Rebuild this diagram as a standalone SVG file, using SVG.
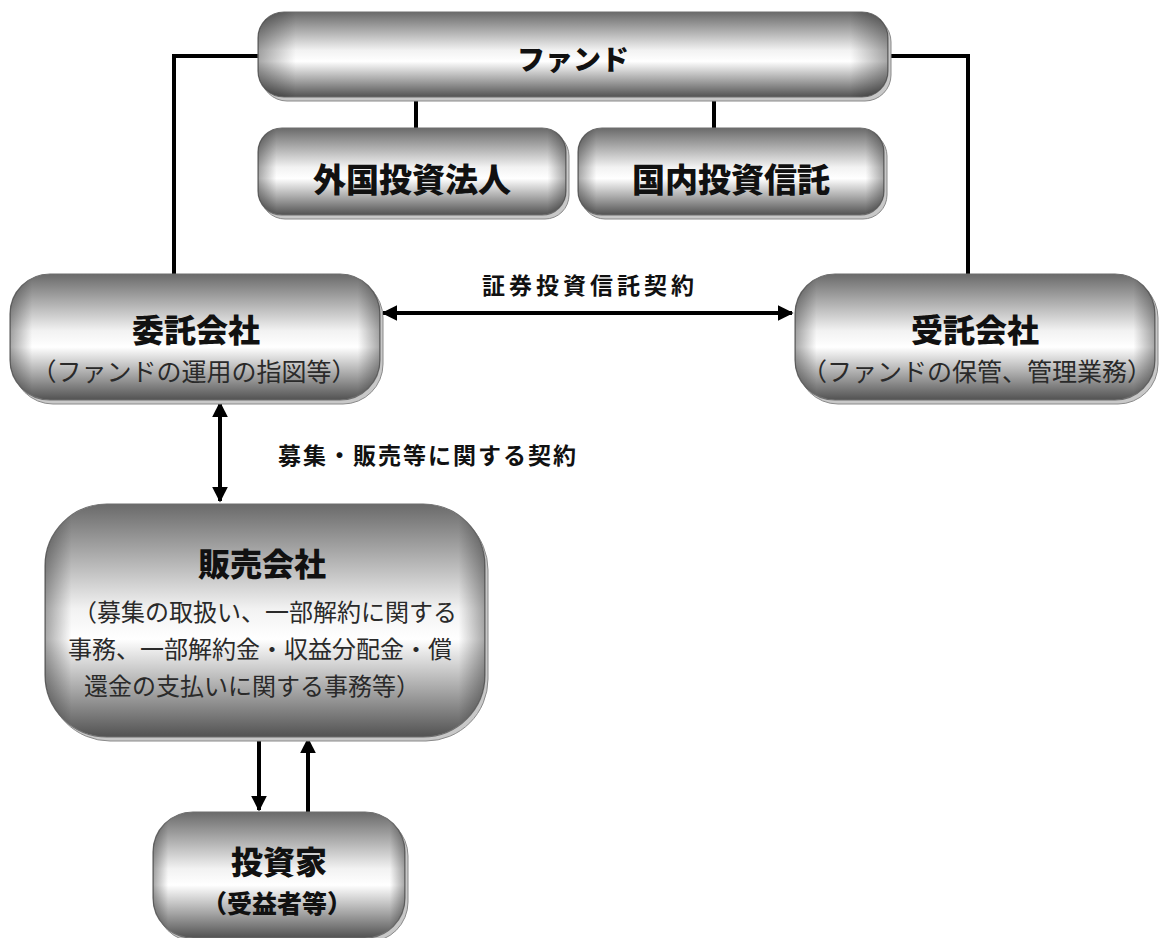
<svg xmlns="http://www.w3.org/2000/svg" width="1159" height="938" viewBox="0 0 1159 938">
<style>
.box{fill:url(#metal);stroke:#6e6e6e;stroke-width:1.2}
.edge{fill:url(#side)}
.rim{fill:#c8c8c8;stroke:#8a8a8a;stroke-width:1}
.t{font-family:"Noto Sans CJK JP","Noto Sans CJK SC",sans-serif;font-weight:900;fill:#111;text-anchor:middle}
.s{font-family:"Noto Sans CJK JP","Noto Sans CJK SC",serif;font-weight:400;fill:#2a2a2a;text-anchor:middle}
.ln{stroke:#000;stroke-width:4;fill:none}
.ar{stroke:#000;stroke-width:4;fill:none;marker-end:url(#ah)}
.ar2{stroke:#000;stroke-width:4;fill:none;marker-end:url(#ah);marker-start:url(#ahs)}
</style>
<defs>
<linearGradient id="metal" x1="0" y1="0" x2="0" y2="1">
<stop offset="0" stop-color="#6a6a6a"/>
<stop offset="0.18" stop-color="#a0a0a0"/>
<stop offset="0.45" stop-color="#f2f2f2"/>
<stop offset="0.58" stop-color="#ffffff"/>
<stop offset="0.8" stop-color="#a6a6a6"/>
<stop offset="1" stop-color="#525252"/>
</linearGradient>
<linearGradient id="side" x1="0" y1="0" x2="1" y2="0">
<stop offset="0" stop-color="#000" stop-opacity="0.35"/>
<stop offset="0.06" stop-color="#000" stop-opacity="0"/>
<stop offset="0.94" stop-color="#000" stop-opacity="0"/>
<stop offset="1" stop-color="#000" stop-opacity="0.35"/>
</linearGradient>
<marker id="ah" viewBox="0 0 10 10" refX="9" refY="5" markerWidth="4" markerHeight="4" orient="auto" markerUnits="strokeWidth">
<path d="M0,0 L10,5 L0,10 Z" fill="#000"/>
</marker>
<marker id="ahs" viewBox="0 0 10 10" refX="1" refY="5" markerWidth="4" markerHeight="4" orient="auto" markerUnits="strokeWidth">
<path d="M10,0 L0,5 L10,10 Z" fill="#000"/>
</marker>
</defs>
<rect width="1159" height="938" fill="#fff"/>

<g id="connectors">
<polyline class="ln" points="258,56 174,56 174,274"/>
<polyline class="ln" points="888,56 968,56 968,274"/>
<line class="ln" x1="416" y1="97" x2="416" y2="128"/>
<line class="ln" x1="714" y1="97" x2="714" y2="128"/>
<line class="ar2" x1="383" y1="313" x2="792" y2="313"/>
<line class="ar2" x1="220" y1="403" x2="220" y2="501"/>
<line class="ar" x1="259" y1="737" x2="259" y2="810"/>
<line class="ar" x1="308" y1="812" x2="308" y2="739"/>
<text class="t" x="590" y="294" font-size="23" letter-spacing="4" font-weight="700" style="font-weight:700">証券投資信託契約</text>
<text class="t" x="278" y="464" font-size="23" letter-spacing="2" style="text-anchor:start;font-weight:700">募集・販売等に関する契約</text>
</g>

<g id="fund">
<rect class="rim" x="261" y="16" width="630" height="85" rx="26"/>
<rect class="box" x="258" y="12" width="630" height="85" rx="26"/>
<rect class="edge" x="258" y="12" width="630" height="85" rx="26"/>
<text class="t" x="573" y="70" font-size="28">ファンド</text>
</g>

<g id="foreign">
<rect class="rim" x="261" y="132" width="308" height="87" rx="24"/>
<rect class="box" x="258" y="128" width="308" height="87" rx="24"/>
<rect class="edge" x="258" y="128" width="308" height="87" rx="24"/>
<text class="t" x="412" y="192" font-size="33">外国投資法人</text>
</g>

<g id="domestic">
<rect class="rim" x="581" y="132" width="306" height="87" rx="24"/>
<rect class="box" x="578" y="128" width="306" height="87" rx="24"/>
<rect class="edge" x="578" y="128" width="306" height="87" rx="24"/>
<text class="t" x="731" y="192" font-size="33">国内投資信託</text>
</g>

<g id="itaku">
<rect class="rim" x="13" y="278" width="370" height="126" rx="40"/>
<rect class="box" x="10" y="274" width="370" height="126" rx="40"/>
<rect class="edge" x="10" y="274" width="370" height="126" rx="40"/>
<text class="t" x="196" y="342" font-size="32">委託会社</text>
<text class="s" x="194" y="381" font-size="25">（ファンドの運用の指図等）</text>
</g>

<g id="jutaku">
<rect class="rim" x="798" y="278" width="360" height="126" rx="40"/>
<rect class="box" x="795" y="274" width="360" height="126" rx="40"/>
<rect class="edge" x="795" y="274" width="360" height="126" rx="40"/>
<text class="t" x="975" y="342" font-size="32">受託会社</text>
<text class="s" x="977" y="381" font-size="25">（ファンドの保管、管理業務）</text>
</g>

<g id="hanbai">
<rect class="rim" x="48" y="508" width="440" height="233" rx="62"/>
<rect class="box" x="45" y="504" width="440" height="233" rx="62"/>
<rect class="edge" x="45" y="504" width="440" height="233" rx="62"/>
<text class="t" x="262" y="576" font-size="32">販売会社</text>
<text class="s" x="265" y="621" font-size="24">（募集の取扱い、一部解約に関する</text>
<text class="s" x="260" y="658" font-size="24">事務、一部解約金・収益分配金・償</text>
<text class="s" x="252" y="695" font-size="24">還金の支払いに関する事務等）</text>
</g>

<g id="investor">
<rect class="rim" x="156" y="816" width="252" height="126" rx="40"/>
<rect class="box" x="153" y="812" width="252" height="126" rx="40"/>
<rect class="edge" x="153" y="812" width="252" height="126" rx="40"/>
<text class="t" x="279" y="874" font-size="32">投資家</text>
<text class="t" x="277" y="913" font-size="25">（受益者等）</text>
</g>
</svg>
